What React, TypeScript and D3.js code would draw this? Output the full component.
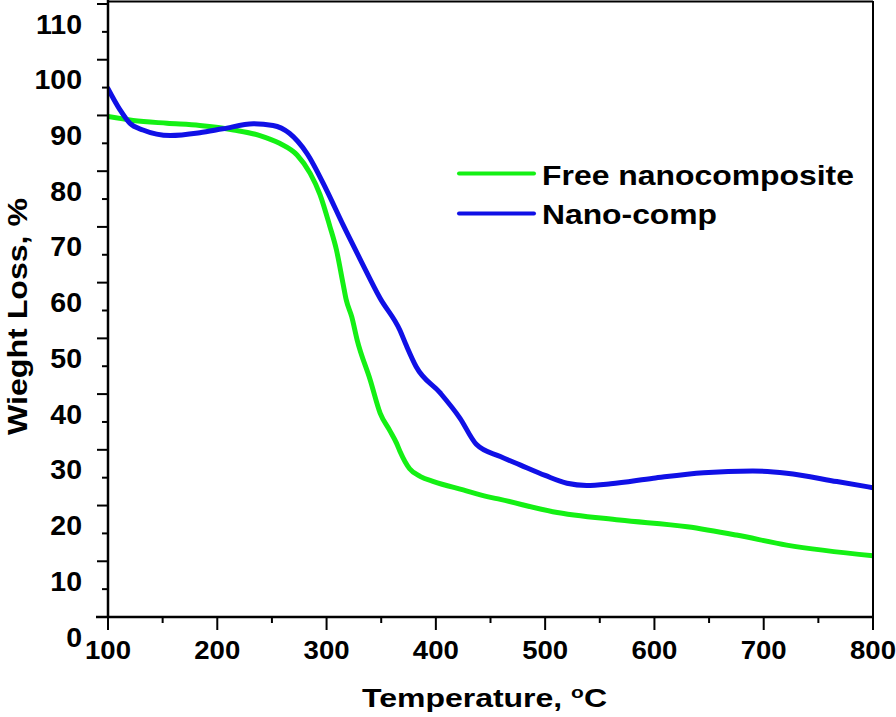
import React from 'react';
import * as d3 from 'd3';

// Free nanocomposite (green)
const tempFree = [100, 123, 154, 184, 215, 239, 257, 273, 285, 294, 303, 309, 315, 318, 323, 328, 340, 349, 358, 364, 367, 376, 386, 398, 425, 447, 459, 507, 568, 630, 675, 721, 800];
const weightFree = [89.8, 89.1, 88.6, 88.2, 87.4, 86.4, 85.0, 82.9, 79.6, 75.8, 70.1, 65.9, 59.9, 56.9, 53.9, 49.7, 42.5, 36.6, 33.4, 31.2, 29.8, 26.6, 25.2, 24.3, 22.8, 21.6, 21.1, 18.9, 17.4, 16.2, 14.7, 12.9, 11.0];

// Nano-comp (blue)
const tempNano = [100, 111, 120, 132, 157, 184, 205, 233, 251, 266, 282, 300, 315, 331, 349, 367, 373, 382, 404, 422, 437, 459, 477, 500, 520, 538, 560, 599, 645, 690, 721, 767, 800];
const weightNano = [94.8, 91.0, 88.6, 87.4, 86.4, 86.9, 87.6, 88.5, 88.2, 86.8, 83.2, 76.6, 70.4, 64.1, 57.2, 51.5, 48.7, 44.9, 40.2, 35.7, 31.0, 28.8, 27.3, 25.4, 24.0, 23.6, 23.9, 24.9, 25.9, 26.2, 25.8, 24.3, 23.2];

const seriesNames = ['Free nanocomposite', 'Nano-comp'];
const seriesColors = ['#14f014', '#1010e6'];
const xTicks = [100, 200, 300, 400, 500, 600, 700, 800];
const xMinor = [150, 250, 350, 450, 550, 650, 750];
const yTicks = [0, 10, 20, 30, 40, 50, 60, 70, 80, 90, 100, 110];
const yMinor = [5, 15, 25, 35, 45, 55, 65, 75, 85, 95, 105];
const xTitle = 'Temperature, ';
const yTitle = 'Wieght Loss, %';

const FONT = '"Liberation Sans", Arial, Helvetica, sans-serif';

export default function App() {
  const W = 896, H = 717;
  const left = 108, right = 873, top = 4, bottom = 617;
  const x = d3.scaleLinear().domain([100, 800]).range([left, right]);
  const y = d3.scaleLinear().domain([0, 110]).range([bottom, top]);
  const line = d3.line<[number, number]>()
    .x(d => x(d[0]))
    .y(d => y(d[1]))
    .curve(d3.curveMonotoneX);

  const free: [number, number][] = tempFree.map((t, i) => [t, weightFree[i]]);
  const nano: [number, number][] = tempNano.map((t, i) => [t, weightNano[i]]);
  const series = [free, nano];

  return (
    <svg width={W} height={H} style={{ position: 'absolute', left: 0, top: 0, background: '#fff' }}
      fontFamily={FONT} fontWeight="bold">
      <rect x={0} y={0} width={W} height={H} fill="#fff" />
      <defs>
        <clipPath id="clip"><rect x={left} y={0} width={right - left} height={bottom} /></clipPath>
      </defs>
      <g clipPath="url(#clip)">
        {series.map((s, i) => (
          <path key={i} d={line(s) || ''} fill="none" stroke={seriesColors[i]} strokeWidth={5}
            strokeLinejoin="round" strokeLinecap="round" />
        ))}
      </g>
      {/* frame */}
      <line x1={left} x2={right} y1={1.5} y2={1.5} stroke="#000" strokeWidth={2} />
      <line x1={right} x2={right} y1={1} y2={bottom} stroke="#000" strokeWidth={2} />
      {/* axes */}
      <line x1={left} x2={left} y1={0} y2={bottom + 1} stroke="#000" strokeWidth={2.5} />
      <line x1={left - 12} x2={right + 1} y1={bottom} y2={bottom} stroke="#000" strokeWidth={2.5} />
      {/* y ticks */}
      {yTicks.map(v => (
        <g key={'y' + v}>
          {v > 0 && <line x1={left - 11} x2={left} y1={y(v)} y2={y(v)} stroke="#000" strokeWidth={2} />}
          <text x={82} y={y(v) + 29.5} textAnchor="end" fontSize={28.5}>{v}</text>
        </g>
      ))}
      {yMinor.map(v => (
        <line key={'ym' + v} x1={left - 6} x2={left} y1={y(v)} y2={y(v)} stroke="#000" strokeWidth={2} />
      ))}
      {/* x ticks */}
      {xTicks.map(v => (
        <g key={'x' + v}>
          <line x1={x(v)} x2={x(v)} y1={bottom} y2={bottom + 13} stroke="#000" strokeWidth={2} />
          <text x={x(v)} y={658.5} textAnchor="middle" fontSize={25} textLength={46}
            lengthAdjust="spacingAndGlyphs">{v}</text>
        </g>
      ))}
      {xMinor.map(v => (
        <line key={'xm' + v} x1={x(v)} x2={x(v)} y1={bottom} y2={bottom + 6} stroke="#000" strokeWidth={2} />
      ))}
      {/* titles */}
      <text x={362} y={707} fontSize={26} textLength={245} lengthAdjust="spacingAndGlyphs">
        {xTitle}<tspan dy={-9} fontSize={17}>o</tspan><tspan dy={9}>C</tspan>
      </text>
      <text transform="translate(27,316.5) rotate(-90)" textAnchor="middle" fontSize={28.5}
        textLength={237} lengthAdjust="spacingAndGlyphs">{yTitle}</text>
      {/* legend */}
      {seriesNames.map((n, i) => (
        <g key={n}>
          <line x1={459} x2={534} y1={173.5 + i * 40} y2={173.5 + i * 40} stroke={seriesColors[i]}
            strokeWidth={4} strokeLinecap="round" />
          <text x={542} y={185 + i * 38.5} fontSize={28} textLength={i === 0 ? 312 : 175}
            lengthAdjust="spacingAndGlyphs">{n}</text>
        </g>
      ))}
    </svg>
  );
}
